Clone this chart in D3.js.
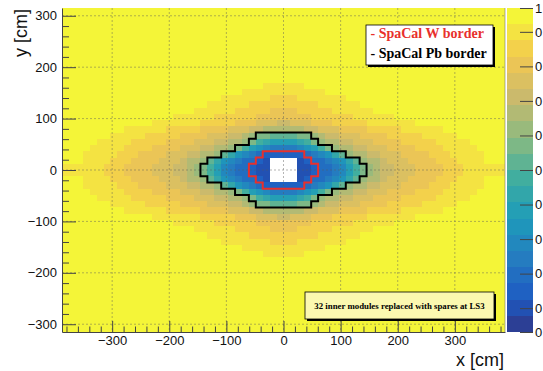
<!DOCTYPE html>
<html>
<head>
<meta charset="utf-8">
<script src="https://cdn.jsdelivr.net/npm/d3@7"></script>
<style>
  body { margin: 0; background: #fff; }
</style>
</head>
<body>
<svg id="chart" width="543" height="371" font-family="'Liberation Sans', Arial, Helvetica, sans-serif"></svg>
<script>
// ---------------- data ----------------
const moduleSize = 12.12;            // cm
const nCols = 64;
const nRows = 52;
const xTicks = [-300, -200, -100, 0, 100, 200, 300];
const yTicks = [-300, -200, -100, 0, 100, 200, 300];
const zMin = 0.031;
const zMax = 0.969;
const nContours = 20;
const zTicks = [0.031, 0.1, 0.2, 0.3, 0.4, 0.5, 0.6, 0.7, 0.8, 0.9, 0.969];
const zTickLabels = ["0", "0", "0", "0", "0", "0", "0", "0", "0", "0", "1"];   // as printed on the palette axis
const xTitle = "x [cm]";
const yTitle = "y [cm]";
const legendLabels = ["- SpaCal W border", "- SpaCal Pb border"];
const noteText = "32 inner modules replaced with spares at LS3";

// contour level of each module (0 = lowest .. j = 19 highest, "." = no module),
// run-length coded per row; rows not listed are level j.
const firstListedRow = 12;
const cellRows = [
  "j29 i6 j29",
  "j26 i12 j26",
  "j23 i7 h4 i7 j23",
  "j21 i6 h10 i6 j21",
  "j19 i6 h5 g4 h5 i6 j19",
  "j16 i6 h6 g8 h6 i6 j16",
  "j13 i7 h5 g3 f3 e2 f3 g3 h5 i7 j13",
  "j9 i6 h5 g4 f3 e2 d6 e2 f3 g4 h5 i6 j9",
  "j7 i5 h5 g4 f3 e2 d1 c1 b2 a4 b2 c1 d1 e2 f3 g4 h5 i5 j7",
  "j5 i5 h5 g4 f3 e2 d2 c1 b1 91 81 74 81 91 b1 c1 d2 e2 f3 g4 h5 i5 j5",
  "j4 i5 h4 g4 f3 e2 d2 c1 b1 91 71 61 51 44 51 61 71 91 b1 c1 d2 e2 f3 g4 h4 i5 j4",
  "j3 i5 h3 g4 f3 e2 d2 c1 a1 81 61 51 41 31 26 31 41 51 61 81 a1 c1 d2 e2 f3 g4 h3 i5 j3",
  "j3 i4 h3 g4 f3 e1 d2 c1 a1 81 61 51 41 32 21 11 .4 11 21 32 41 51 61 81 a1 c1 d2 e1 f3 g4 h3 i4 j3",
  "i6 h3 g4 f3 e2 d1 c1 b1 91 71 51 41 32 21 12 .4 12 21 32 41 51 71 91 b1 c1 d1 e2 f3 g4 h3 i6",
  "i6 h3 g4 f3 e2 d1 c1 b1 91 71 51 41 32 21 12 .4 12 21 32 41 51 71 91 b1 c1 d1 e2 f3 g4 h3 i6",
  "j3 i4 h3 g4 f3 e1 d2 c1 a1 81 61 51 41 32 21 11 .4 11 21 32 41 51 61 81 a1 c1 d2 e1 f3 g4 h3 i4 j3",
  "j3 i5 h3 g4 f3 e2 d2 c1 a1 81 61 51 41 31 26 31 41 51 61 81 a1 c1 d2 e2 f3 g4 h3 i5 j3",
  "j4 i5 h4 g4 f3 e2 d2 c1 b1 91 71 61 51 44 51 61 71 91 b1 c1 d2 e2 f3 g4 h4 i5 j4",
  "j5 i5 h5 g4 f3 e2 d2 c1 b1 91 81 74 81 91 b1 c1 d2 e2 f3 g4 h5 i5 j5",
  "j7 i5 h5 g4 f3 e2 d1 c1 b2 a4 b2 c1 d1 e2 f3 g4 h5 i5 j7",
  "j9 i6 h5 g4 f3 e2 d6 e2 f3 g4 h5 i6 j9",
  "j13 i7 h5 g3 f3 e2 f3 g3 h5 i7 j13",
  "j16 i6 h6 g8 h6 i6 j16",
  "j19 i6 h5 g4 h5 i6 j19",
  "j21 i6 h10 i6 j21",
  "j23 i7 h4 i7 j23",
  "j26 i12 j26",
  "j29 i6 j29"
];
const levelCodes = "0123456789abcdefghij";

// borders, in module units around the beam pipe
const wBorder = [[-3,3],[3,3],[3,2],[4,2],[4,1],[5,1],[5,-1],[4,-1],[4,-2],[3,-2],[3,-3],
  [-3,-3],[-3,-2],[-4,-2],[-4,-1],[-5,-1],[-5,1],[-4,1],[-4,2],[-3,2]];
const pbBorder = [[-4,6],[4,6],[4,5],[5,5],[5,4],[7,4],[7,3],[9,3],[9,2],[11,2],[11,1],[12,1],
  [12,-1],[11,-1],[11,-2],[9,-2],[9,-3],[7,-3],[7,-4],[5,-4],[5,-5],[4,-5],[4,-6],
  [-4,-6],[-4,-5],[-5,-5],[-5,-4],[-7,-4],[-7,-3],[-9,-3],[-9,-2],[-11,-2],[-11,-1],
  [-12,-1],[-12,1],[-11,1],[-11,2],[-9,2],[-9,3],[-7,3],[-7,4],[-5,4],[-5,5],[-4,5]];

// ROOT kBird palette
const birdStops = [0, 0.125, 0.25, 0.375, 0.5, 0.625, 0.75, 0.875, 1];
const birdR = [0.2082, 0.0592, 0.0780, 0.0232, 0.1802, 0.5301, 0.8186, 0.9956, 0.9764];
const birdG = [0.1664, 0.3599, 0.5041, 0.6419, 0.7178, 0.7492, 0.7328, 0.7862, 0.9832];
const birdB = [0.5293, 0.8684, 0.8385, 0.7914, 0.6425, 0.4662, 0.3499, 0.1968, 0.0539];
const desaturate = 0.2;   // the printed figure is a little softer than the raw palette

// ---------------- layout ----------------
const SANS = "'Liberation Sans', Arial, Helvetica, sans-serif";
const SERIF = "'Liberation Serif', 'Times New Roman', Times, serif";
const plot = { left: 62, right: 505, top: 8, bottom: 332 };
const bar = { left: 507, right: 533 };

const svg = d3.select("#chart");
const halfX = nCols * moduleSize / 2, halfY = nRows * moduleSize / 2;
const xs = d3.scaleLinear().domain([-halfX, halfX]).range([plot.left, plot.right]);
const ys = d3.scaleLinear().domain([-halfY, halfY]).range([plot.bottom, plot.top]);
const zs = d3.scaleLinear().domain([zMin, zMax]).range([plot.bottom, plot.top]);

function soften(r, g, b) {
  const L = 0.299 * r + 0.587 * g + 0.114 * b;
  return d3.rgb(r + (L - r) * desaturate, g + (L - g) * desaturate, b + (L - b) * desaturate).toString();
}
const bird = d3.scaleLinear().domain(birdStops)
  .range(birdStops.map((s, i) => soften(birdR[i] * 255, birdG[i] * 255, birdB[i] * 255)))
  .interpolate(d3.interpolateRgb);
const contourColors = d3.range(nContours).map(i => bird((i + 0.99) / nContours));
const color = d3.scaleQuantize().domain([zMin, zMax]).range(contourColors);
const dz = (zMax - zMin) / nContours;

// decode cells
const cells = [];
for (let r = 0; r < nRows; r++) {
  const codes = [];
  const listed = cellRows[r - firstListedRow];
  if (listed) {
    listed.split(" ").forEach(tok => {
      const ch = tok[0], n = +tok.slice(1);
      for (let k = 0; k < n; k++) codes.push(ch);
    });
  }
  for (let c = 0; c < nCols; c++) {
    const ch = codes[c] || "j";
    const value = ch === "." ? null : zMin + (levelCodes.indexOf(ch) + 0.5) * dz;
    cells.push({ r, c, value });
  }
}

// cells
svg.append("g").attr("shape-rendering", "crispEdges")
  .selectAll("rect").data(cells).join("rect")
  .attr("x", d => xs(-halfX + d.c * moduleSize))
  .attr("y", d => ys(halfY - d.r * moduleSize))
  .attr("width", d => xs(-halfX + (d.c + 1) * moduleSize) - xs(-halfX + d.c * moduleSize))
  .attr("height", d => ys(halfY - (d.r + 1) * moduleSize) - ys(halfY - d.r * moduleSize))
  .attr("fill", d => d.value === null ? "#ffffff" : color(d.value));

// grid
const grid = svg.append("g").attr("stroke", "#5a5a5a").attr("stroke-width", 0.6)
  .attr("stroke-dasharray", "2,2").attr("opacity", 0.75);
grid.selectAll("line.gx").data(xTicks).join("line").attr("class", "gx")
  .attr("x1", d => xs(d)).attr("x2", d => xs(d)).attr("y1", plot.top).attr("y2", plot.bottom);
grid.selectAll("line.gy").data(yTicks).join("line").attr("class", "gy")
  .attr("y1", d => ys(d)).attr("y2", d => ys(d)).attr("x1", plot.left).attr("x2", plot.right);

// borders
const borderLine = d3.line().x(p => xs(p[0] * moduleSize)).y(p => ys(p[1] * moduleSize));
svg.append("path").attr("d", borderLine(pbBorder) + "Z").attr("fill", "none")
  .attr("stroke", "#000").attr("stroke-width", 2).attr("stroke-linejoin", "miter");
svg.append("path").attr("d", borderLine(wBorder) + "Z").attr("fill", "none")
  .attr("stroke", "#e8302c").attr("stroke-width", 2).attr("stroke-linejoin", "miter");

// plot frame right edge
svg.append("line").attr("x1", plot.right).attr("x2", plot.right)
  .attr("y1", plot.top).attr("y2", plot.bottom).attr("stroke", "#777").attr("stroke-width", 0.6);

// axes
function styleAxis(g) {
  g.attr("font-family", SANS).attr("font-size", 13);
  g.selectAll("path.domain").attr("stroke", "#444");
  g.selectAll(".tick line").attr("stroke", "#444");
  g.selectAll("text").attr("fill", "#111");
}
const xMinor = d3.range(-380, 381, 20).filter(v => v % 100 !== 0);
const yMinor = d3.range(-300, 301, 20).filter(v => v % 100 !== 0);

svg.append("g").attr("transform", `translate(0,${plot.bottom})`)
  .call(d3.axisBottom(xs).tickValues(xMinor).tickSizeInner(-5.5).tickSizeOuter(0).tickFormat(""))
  .call(g => g.select(".domain").remove())
  .call(styleAxis);
svg.append("g").attr("transform", `translate(0,${plot.bottom})`)
  .call(d3.axisBottom(xs).tickValues(xTicks).tickSizeInner(-11).tickSizeOuter(0).tickPadding(4))
  .call(styleAxis);

svg.append("g").attr("transform", `translate(${plot.left},0)`)
  .call(d3.axisLeft(ys).tickValues(yMinor).tickSizeInner(-7).tickSizeOuter(0).tickFormat(""))
  .call(g => g.select(".domain").remove())
  .call(styleAxis);
svg.append("g").attr("transform", `translate(${plot.left},0)`)
  .call(d3.axisLeft(ys).tickValues(yTicks).tickSizeInner(-14).tickSizeOuter(0).tickPadding(5))
  .call(styleAxis);

// axis titles
svg.append("text").attr("x", 504).attr("y", 366).attr("text-anchor", "end")
  .attr("font-family", SANS).attr("font-size", 18).attr("fill", "#111").text(xTitle);
svg.append("text").attr("transform", "translate(27,9) rotate(-90)").attr("text-anchor", "end")
  .attr("font-family", SANS).attr("font-size", 18).attr("fill", "#111").text(yTitle);

// color bar
svg.append("g").attr("shape-rendering", "crispEdges")
  .selectAll("rect").data(contourColors).join("rect")
  .attr("x", bar.left).attr("width", bar.right - bar.left)
  .attr("y", (d, i) => zs(zMin + (i + 1) * dz))
  .attr("height", (d, i) => zs(zMin + i * dz) - zs(zMin + (i + 1) * dz))
  .attr("fill", d => d);
svg.append("g").attr("transform", `translate(${bar.right},0)`)
  .call(d3.axisRight(zs).tickValues(zTicks).tickSizeInner(-13).tickSizeOuter(0).tickPadding(2)
    .tickFormat((d, i) => zTickLabels[i]))
  .call(g => g.select(".domain").remove())
  .call(styleAxis);

// legend box
const lg = svg.append("g");
lg.append("rect").attr("x", 368).attr("y", 27).attr("width", 127).attr("height", 40).attr("fill", "#000");
lg.append("rect").attr("x", 366).attr("y", 25).attr("width", 127).attr("height", 40)
  .attr("fill", "#fff").attr("stroke", "#000").attr("stroke-width", 0.8);
lg.selectAll("text").data(legendLabels).join("text")
  .attr("x", 370.5).attr("y", (d, i) => 38 + i * 19.5)
  .attr("font-family", SERIF)
  .attr("font-weight", "bold").attr("font-size", 14)
  .attr("fill", (d, i) => i === 0 ? "#e8302c" : "#000")
  .text(d => d);

// note box
const nb = svg.append("g");
nb.append("rect").attr("x", 307).attr("y", 294).attr("width", 189).attr("height", 27).attr("fill", "#000");
nb.append("rect").attr("x", 305).attr("y", 292).attr("width", 189).attr("height", 27)
  .attr("fill", "#fbf8b0").attr("stroke", "#000").attr("stroke-width", 0.8);
nb.append("text").attr("x", 399.5).attr("y", 308.5).attr("text-anchor", "middle")
  .attr("font-family", SERIF)
  .attr("font-weight", "bold").attr("font-size", 8.8).attr("fill", "#000")
  .text(noteText);
</script>
</body>
</html>
